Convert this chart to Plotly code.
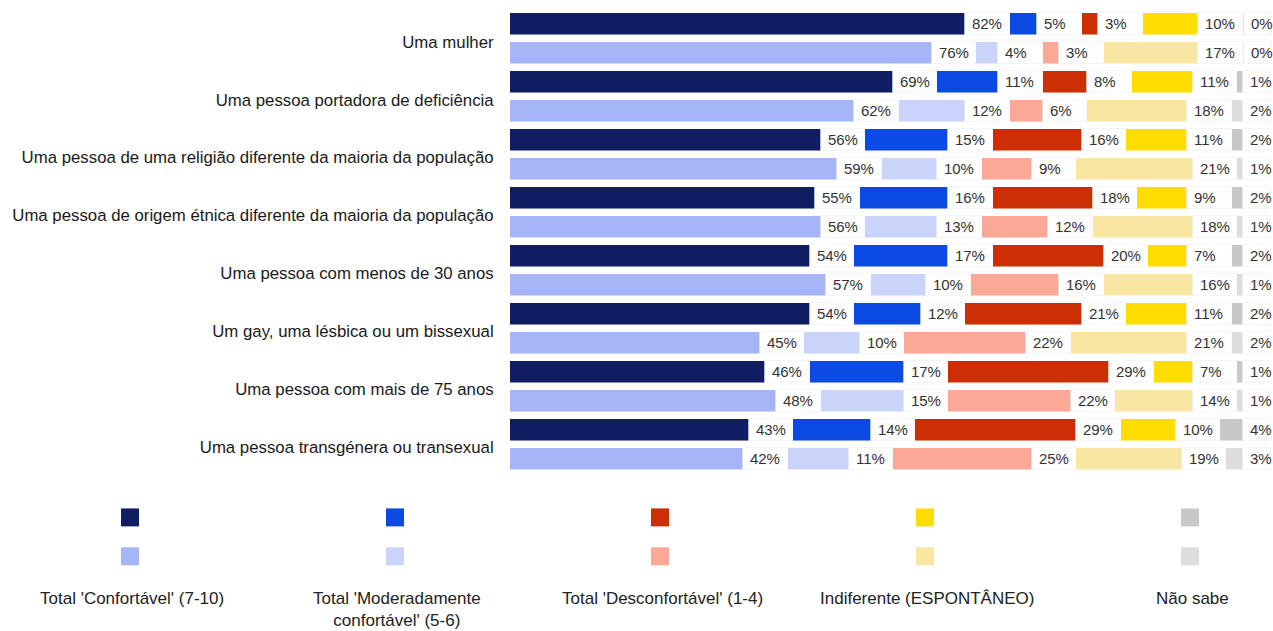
import plotly.graph_objects as go

categories = [
    "Uma mulher",
    "Uma pessoa portadora de deficiência",
    "Uma pessoa de uma religião diferente da maioria da população",
    "Uma pessoa de origem étnica diferente da maioria da população",
    "Uma pessoa com menos de 30 anos",
    "Um gay, uma lésbica ou um bissexual",
    "Uma pessoa com mais de 75 anos",
    "Uma pessoa transgénera ou transexual",
]

series_names = [
    "Total 'Confortável' (7-10)",
    "Total 'Moderadamente<br>confortável' (5-6)",
    "Total 'Desconfortável' (1-4)",
    "Indiferente (ESPONTÂNEO)",
    "Não sabe",
]

# dark rows (first bar of each pair) and light rows (second bar)
conf_dark = [82, 69, 56, 55, 54, 54, 46, 43]
conf_light = [76, 62, 59, 56, 57, 45, 48, 42]
mod_dark = [5, 11, 15, 16, 17, 12, 17, 14]
mod_light = [4, 12, 10, 13, 10, 10, 15, 11]
desc_dark = [3, 8, 16, 18, 20, 21, 29, 29]
desc_light = [3, 6, 9, 12, 16, 22, 22, 25]
indif_dark = [10, 11, 11, 9, 7, 11, 7, 10]
indif_light = [17, 18, 21, 18, 16, 21, 14, 19]
ns_dark = [0.3, 1, 2, 2, 2, 2, 1, 4]
ns_light = [0.3, 2, 1, 1, 1, 2, 1, 3]

dark_colors = ["#111D63", "#0B4BE3", "#CC2E05", "#FFDD00", "#C8C8CA"]
light_colors = ["#A6B4F8", "#CAD3FA", "#FBA897", "#FAE6A3", "#DDDDDD"]

dark_series = [conf_dark, mod_dark, desc_dark, indif_dark, ns_dark]
light_series = [conf_light, mod_light, desc_light, indif_light, ns_light]

GAP = 8       # spacing (in % units) reserved for the value label after each segment
LAST_GAP = 5  # room for the label after the final segment

FONT = "Liberation Sans, Arial, sans-serif"

n = len(categories)
rows = list(range(2 * n))

fig = go.Figure()
for k in range(5):
    vals = []
    cols = []
    for i in range(n):
        vals += [dark_series[k][i], light_series[k][i]]
        cols += [dark_colors[k], light_colors[k]]
    fig.add_trace(go.Bar(
        y=rows, x=vals, orientation="h",
        marker=dict(color=cols, line=dict(width=0.8, color="rgba(255,255,255,0.6)")),
        width=0.76, showlegend=False, hoverinfo="skip",
    ))
    g = GAP if k < 4 else LAST_GAP
    fig.add_trace(go.Bar(
        y=rows, x=[g] * len(vals), orientation="h",
        marker=dict(color="rgba(0,0,0,0)"),
        width=0.76, showlegend=False, hoverinfo="skip",
        text=[f"\u00a0{round(v)}%" for v in vals],
        textposition="inside", insidetextanchor="start",
        textfont=dict(size=15, color="#333333", family=FONT),
        constraintext="none", cliponaxis=False,
    ))

W, H = 1273, 631
ML, MT = 510, 9.5
MB = H - 473.5
MR = 0
pw, ph = W - ML - MR, H - MT - MB

def px(x):
    return (x - ML) / pw

def py(y):
    return (H - MB - y) / ph

legend_x = [130, 395, 660, 925, 1190]
shapes = []
annotations = []
for k in range(5):
    for yc, col in [(518, dark_colors[k]), (557, light_colors[k])]:
        shapes.append(dict(type="rect", xref="paper", yref="paper",
                           x0=px(legend_x[k] - 9), x1=px(legend_x[k] + 9),
                           y0=py(yc + 9), y1=py(yc - 9),
                           fillcolor=col, line=dict(width=0)))
    annotations.append(dict(xref="paper", yref="paper", x=px(legend_x[k] + 2), y=py(588),
                            text=series_names[k], showarrow=False,
                            xanchor="center", yanchor="top", align="center",
                            font=dict(size=17, color="#222222", family=FONT)))

fig.update_layout(
    barmode="stack",
    width=W, height=H,
    margin=dict(l=ML, r=MR, t=MT, b=MB, pad=0, autoexpand=False),
    plot_bgcolor="white", paper_bgcolor="white",
    bargap=0,
    xaxis=dict(range=[0, pw / 5.55], visible=False, fixedrange=True),
    yaxis=dict(range=[2 * n - 0.5, -0.5], tickvals=[2 * i + 0.6 for i in range(n)],
               ticktext=categories, showgrid=False, zeroline=False, showline=False,
               ticks="outside", ticklen=12, tickcolor="rgba(0,0,0,0)", automargin=False,
               tickfont=dict(size=16.8, color="#1a1a1a", family=FONT)),
    shapes=shapes, annotations=annotations,
    uniformtext=dict(mode=False),
)

fig.write_html(
    "out.html",
    config={"displayModeBar": False},
    post_script="document.body.style.margin='0';document.body.style.overflow='hidden';",
)
